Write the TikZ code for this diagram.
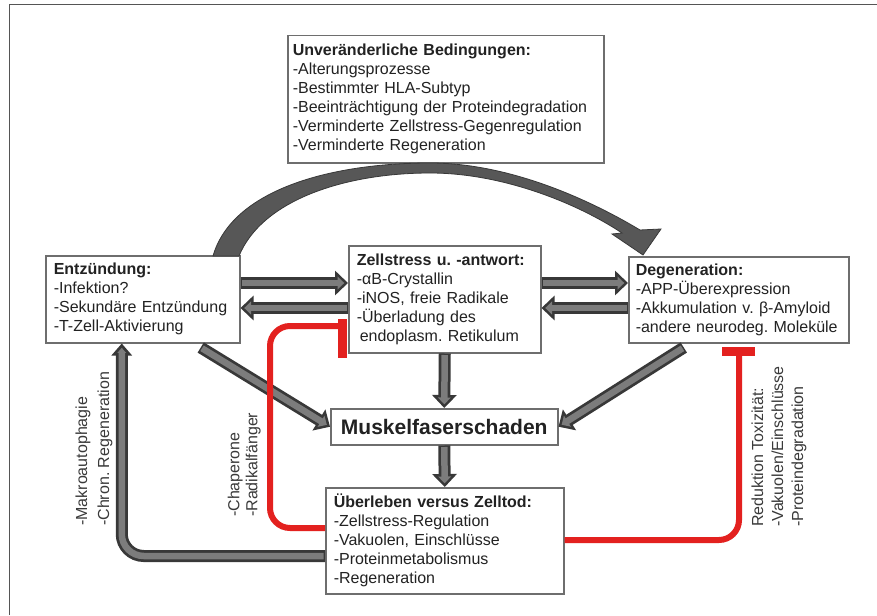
\documentclass[tikz,border=0pt]{standalone}
\usepackage{fontspec}
\setmainfont{Liberation Sans}
\usetikzlibrary{arrows.meta,calc}
\definecolor{txt}{HTML}{222222}
\definecolor{boxc}{HTML}{6E6E6E}
\definecolor{ardark}{HTML}{383838}
\definecolor{arlight}{HTML}{7C7C7C}
\definecolor{bigc}{HTML}{575757}
\definecolor{redc}{HTML}{E3211F}
\definecolor{framec}{HTML}{555555}
\definecolor{lblc}{HTML}{3A3A3A}
\newcommand{\fs}{\fontsize{16}{19}\selectfont}
\newcommand{\twotone}[3]{\draw[#1] #3; \draw[#2] #3;}
\frenchspacing
\begin{document}
\begin{tikzpicture}[x=1pt,y=-1pt,
 box/.style={draw=boxc, line width=1.5pt, fill=white, align=left, inner xsep=8pt, inner ysep=0pt, anchor=north west, font=\fs, text=txt},
 blkout/.style={line width=12pt, draw=ardark, -{Triangle[length=13pt,width=24pt]}},
 blkin/.style={line width=6.5pt, draw=arlight, -{Triangle[length=6.8pt,width=12.6pt]}, shorten >=3.7pt, shorten <=1.5pt},
 upout/.style={line width=12pt, draw=ardark, -{Triangle[length=12pt,width=20pt]}},
 upin/.style={line width=6.5pt, draw=arlight, -{Triangle[length=5pt,width=8.2pt]}, shorten >=4.3pt, shorten <=1.5pt},
 inh/.style={draw=redc, line width=6pt, rounded corners=20pt},
 tbar/.style={draw=redc, line width=9pt},
 lbl/.style={rotate=90, align=left, text=lblc, inner sep=0pt, anchor=north west},
]
\useasboundingbox (0,0) rectangle (877,615);
\fill[white] (0,0) rectangle (877,615);
\draw[framec, line width=1.5pt] (9.5,615) -- (9.5,4.7) -- (877,4.7);

% boxes
\node[box, text width=306pt, inner xsep=5pt, minimum height=127pt] (top) at (287,35)
 {\textbf{Unveränderliche Bedingungen:}\\-Alterungsprozesse\\-Bestimmter HLA-Subtyp\\-Beeinträchtigung der Proteindegradation\\-Verminderte Zellstress-Gegenregulation\\-Verminderte Regeneration};
\node[box, text width=178pt, minimum height=87pt] (entz) at (45,255)
 {\textbf{Entzündung:}\\-Infektion?\\-Sekundäre Entzündung\\-T-Zell-Aktivierung};
\node[box, text width=176pt, minimum height=107pt] (zell) at (348,245)
 {\textbf{Zellstress u. -antwort:}\\-αB-Crystallin\\-iNOS, freie Radikale\\-Überladung des\\\hspace*{3pt}endoplasm. Retikulum};
\node[box, text width=206pt, inner xsep=7pt, minimum height=86pt] (degen) at (628,256)
 {\textbf{Degeneration:}\\-APP-Überexpression\\-Akkumulation v. β-Amyloid\\-andere neurodeg. Moleküle};
\node[box, font=\fontsize{21}{24}\selectfont\bfseries, align=center, text width=211pt, minimum height=36pt] (musk) at (330,408)
 {Muskelfaserschaden};
\node[box, text width=222pt, minimum height=106pt] (ueber) at (325,487)
 {\textbf{Überleben versus Zelltod:}\\-Zellstress-Regulation\\-Vakuolen, Einschlüsse\\-Proteinmetabolismus\\-Regeneration};

% big curved arrow
\filldraw[fill=bigc, draw=ardark, line width=0.8pt]
 (213,256) .. controls (232,190) and (330,163) .. (430,163)
 .. controls (510,163) and (590,200) .. (640,230)
 -- (661,229) -- (643,255) -- (612,234) -- (622,233)
 .. controls (580,205) and (505,173) .. (430,173)
 .. controls (345,173) and (262,200) .. (239,256) -- cycle;

% block arrows
\twotone{blkout}{blkin}{(entz.east |- 0,283) -- (zell.west |- 0,283)}
\twotone{blkout}{blkin}{(zell.west |- 0,308) -- (entz.east |- 0,308)}
\twotone{blkout}{blkin}{(zell.east |- 0,283) -- (degen.west |- 0,283)}
\twotone{blkout}{blkin}{(degen.west |- 0,308) -- (zell.east |- 0,308)}
\twotone{blkout}{blkin}{(zell.south) -- (musk.north)}
\twotone{blkout}{blkin}{(musk.south) -- (ueber.north)}
\twotone{blkout}{blkin}{([xshift=58pt,yshift=-4pt]entz.south) -- (musk.west)}
\twotone{blkout}{blkin}{([xshift=-55pt,yshift=-4pt]degen.south) -- (musk.east)}
\twotone{upout,rounded corners=22pt}{upin,rounded corners=22pt}{(ueber.west |- 0,556) -| ([xshift=-21pt]entz.south)}

% inhibition lines
\draw[inh] (ueber.west |- 0,528) -- (270,528) -- (270,326) -- (341,326);
\draw[tbar] (342.5,319) -- (342.5,358);
\draw[inh] (ueber.east |- 0,540) -- (739,540) -- (739,353);
\draw[tbar] (722,351.5) -- (755,351.5);

% rotated labels
\node[lbl, font=\fontsize{16}{22}\selectfont] (lmakro) at (75.4,526) {-Makroautophagie\\-Chron. Regeneration};
\node[lbl, font=\fontsize{16}{18}\selectfont] (lchap) at (227.5,517) {-Chaperone\\-Radikalfänger};
\node[lbl, font=\fontsize{16}{20}\selectfont] (lred) at (751.2,527) {Reduktion Toxizität:\\-Vakuolen/Einschlüsse\\-Proteindegradation};
\end{tikzpicture}
\end{document}
